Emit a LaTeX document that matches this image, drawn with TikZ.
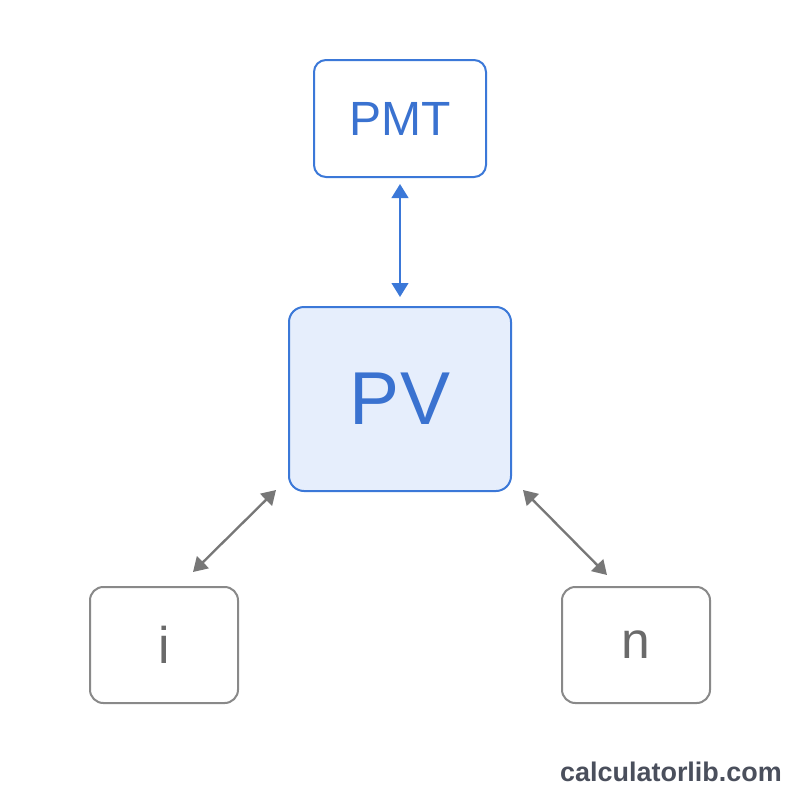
\documentclass[tikz,border=0pt]{standalone}
\usepackage{fontspec}
\setmainfont{Liberation Sans}
\usetikzlibrary{arrows.meta,calc}
\definecolor{bluestroke}{HTML}{3B78D8}
\definecolor{bluetext}{HTML}{3A72D0}
\definecolor{bluefill}{HTML}{E6EEFC}
\definecolor{graystroke}{HTML}{898989}
\definecolor{grayarrow}{HTML}{777777}
\definecolor{graytext}{HTML}{6A6A6A}
\definecolor{marktext}{HTML}{4A4F5C}
\tikzset{
  bluebox/.style={draw=bluestroke, line width=0.6mm, rounded corners=3.6mm, text=bluetext, align=center, inner sep=0pt},
  graybox/.style={draw=graystroke, line width=0.6mm, rounded corners=4mm, text=graytext, align=center, inner sep=0pt, minimum width=44.4mm, minimum height=34.8mm, font=\fontsize{44}{48}\selectfont},
  bluelink/.style={draw=bluestroke, line width=0.7mm, {Triangle[length=4.2mm,width=5mm]}-{Triangle[length=4.2mm,width=5mm]}},
  graylink/.style={draw=grayarrow, line width=0.7mm, {Triangle[length=4.2mm,width=5mm]}-{Triangle[length=4.2mm,width=5mm]}}
}
\begin{document}
\begin{tikzpicture}[x=0.3mm,y=-0.3mm]
\fill[white] (0,0) rectangle (800,800);
\useasboundingbox (0,0) rectangle (800,800);
\node[bluebox, minimum width=51.6mm, minimum height=35.1mm, font=\fontsize{41}{46}\selectfont] (pmt) at (400,118.5) {PMT};
\node[bluebox, fill=bluefill, rounded corners=4.5mm, minimum width=66.6mm, minimum height=55.2mm, font=\fontsize{64}{70}\selectfont] (pv) at (400,399) {PV};
\node[graybox] (i) at (164,645) {i};
\node[graybox] (n) at (636,645) {n};
\coordinate (a1) at ($(pv.south west)+(-12,-2)$);
\coordinate (a2) at ($(i.north)+(29,-14)$);
\coordinate (b1) at ($(pv.south east)+(11,-2)$);
\coordinate (b2) at ($(n.north)+(-29,-11)$);
\draw[bluelink, shorten <=1.8mm, shorten >=2.7mm] (pmt.south) -- (pv.north);
\draw[graylink] (a1) -- (a2);
\draw[graylink] (b1) -- (b2);
\node[text=marktext, font=\bfseries\fontsize{23}{26}\selectfont] (mark) at (671,772) {calculatorlib.com};
\end{tikzpicture}
\end{document}
